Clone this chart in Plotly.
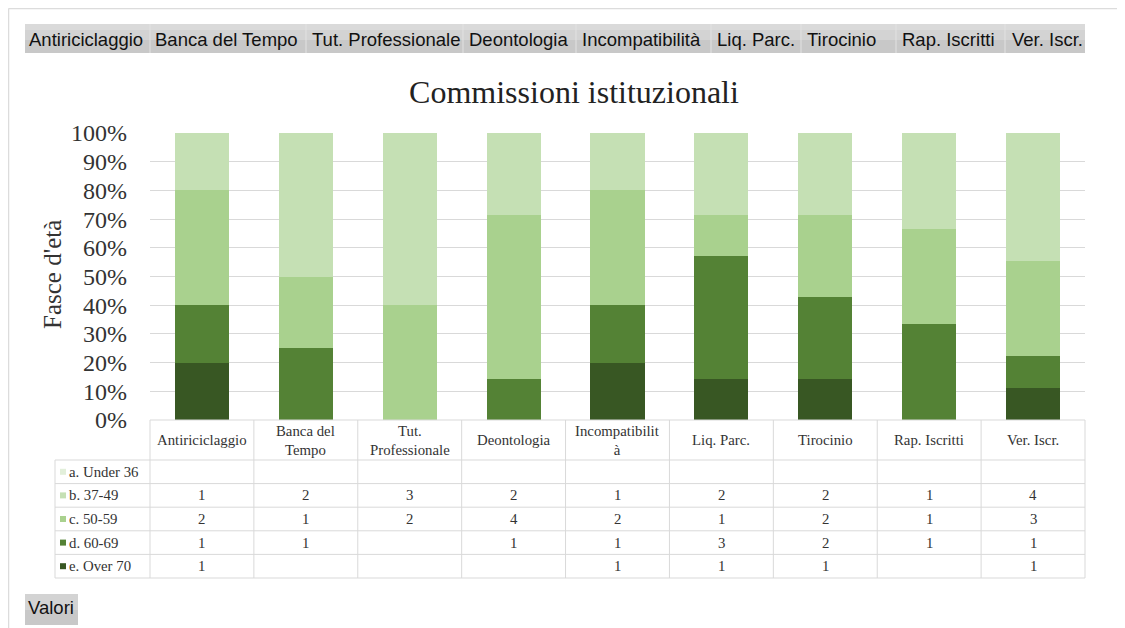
import plotly.graph_objects as go

categories = ["Antiriciclaggio", "Banca del Tempo", "Tut. Professionale", "Deontologia",
              "Incompatibilità", "Liq. Parc.", "Tirocinio", "Rap. Iscritti", "Ver. Iscr."]
header_labels = ["Antiriciclaggio", "Banca del<br>Tempo", "Tut.<br>Professionale", "Deontologia",
                 "Incompatibilit<br>à", "Liq. Parc.", "Tirocinio", "Rap. Iscritti", "Ver. Iscr."]
series_names = ["a. Under 36", "b. 37-49", "c. 50-59", "d. 60-69", "e. Over 70"]
under36 = [None, None, None, None, None, None, None, None, None]
age37_49 = [1, 2, 3, 2, 1, 2, 2, 1, 4]
age50_59 = [2, 1, 2, 4, 2, 1, 2, 1, 3]
age60_69 = [1, 1, None, 1, 1, 3, 2, 1, 1]
over70 = [1, None, None, None, 1, 1, 1, None, 1]
series_values = [under36, age37_49, age50_59, age60_69, over70]
colors = ["#e2efda", "#c5e0b4", "#a9d18e", "#548235", "#385723"]
filter_buttons = ["Antiriciclaggio", "Banca del Tempo", "Tut. Professionale", "Deontologia",
                  "Incompatibilità", "Liq. Parc.", "Tirocinio", "Rap. Iscritti", "Ver. Iscr."]
y_ticks = list(range(0, 101, 10))

OFF = 8  # page body margin
W, H = 1125 - OFF, 628 - OFF
PL, PR, PT, PB = 150, 1085, 133, 420  # plot area in screen pixels
L, T = PL - OFF, PT - OFF
R, B = W - (PR - OFF), H - (PB - OFF)
PW, PH = PR - PL, PB - PT


def px(x):
    return (x - PL) / PW


def py(y):
    return (PB - y) / PH


SERIF = "Liberation Serif, Times New Roman, serif"
SANS = "Liberation Sans, Arial, sans-serif"

fig = go.Figure()
# stack bottom-up: Over 70 first
for name, vals, col in reversed(list(zip(series_names, series_values, colors))):
    fig.add_trace(go.Bar(
        x=list(range(len(categories))), y=[v if v else 0 for v in vals], name=name,
        marker=dict(color=col, line=dict(width=0)), width=0.52, showlegend=False,
        hovertext=categories,
    ))

shapes = []
annotations = []
grey = "#d9d9d9"

# outer frame
shapes.append(dict(type="line", xref="paper", yref="paper", x0=px(8.5), x1=px(1125), y0=py(8.5), y1=py(8.5),
                   line=dict(color="#dcdcdc", width=1.5)))
shapes.append(dict(type="line", xref="paper", yref="paper", x0=px(8.5), x1=px(8.5), y0=py(8.5), y1=py(628),
                   line=dict(color="#dcdcdc", width=1.5)))

# filter buttons
bounds = [25, 150, 306, 463, 576, 711, 801, 896, 1005, 1085]
text_x = [27, 153, 310, 467, 580, 715, 805, 900, 1010]
for i, lab in enumerate(filter_buttons):
    x0, x1 = bounds[i], bounds[i + 1]
    shapes.append(dict(type="rect", xref="paper", yref="paper", x0=px(x0), x1=px(x1),
                       y0=py(53), y1=py(24), fillcolor="#c8c8c8", line=dict(width=0), layer="below"))
    shapes.append(dict(type="rect", xref="paper", yref="paper", x0=px(x0), x1=px(x1),
                       y0=py(40), y1=py(24), fillcolor="#d3d3d3", line=dict(width=0), layer="below"))
    shapes.append(dict(type="rect", xref="paper", yref="paper", x0=px(x0), x1=px(x1),
                       y0=py(30), y1=py(24), fillcolor="#dadada", line=dict(width=0), layer="below"))
    if i > 0:
        shapes.append(dict(type="line", xref="paper", yref="paper", x0=px(x0), x1=px(x0),
                           y0=py(53), y1=py(24), line=dict(color="#e2e2e2", width=1)))
    annotations.append(dict(text=lab, xref="paper", yref="paper", x=px(text_x[i]), y=py(39),
                            xanchor="left", yanchor="middle", showarrow=False,
                            font=dict(family=SANS, size=18.5, color="#111111")))

# Valori button
shapes.append(dict(type="rect", xref="paper", yref="paper", x0=px(25), x1=px(78), y0=py(625), y1=py(594),
                   fillcolor="#c8c8c8", line=dict(width=0), layer="below"))
shapes.append(dict(type="rect", xref="paper", yref="paper", x0=px(25), x1=px(78), y0=py(610), y1=py(594),
                   fillcolor="#d3d3d3", line=dict(width=0), layer="below"))
annotations.append(dict(text="Valori", xref="paper", yref="paper", x=px(26), y=py(607),
                        xanchor="left", yanchor="middle", showarrow=False,
                        font=dict(family=SANS, size=18.5, color="#111111")))

# data table
head_top, head_bot = 420, 460
row_h = 23.6
tab_left = 55
n = len(categories)
colw = PW / n
rows_y = [head_bot + k * row_h for k in range(len(series_names) + 1)]
shapes.append(dict(type="line", xref="paper", yref="paper", x0=0, x1=1, y0=py(head_top), y1=py(head_top),
                   line=dict(color=grey, width=1)))
for yy in rows_y:
    shapes.append(dict(type="line", xref="paper", yref="paper", x0=px(tab_left), x1=1, y0=py(yy), y1=py(yy),
                       line=dict(color=grey, width=1)))
for k in range(n + 1):
    xx = PL + k * colw
    shapes.append(dict(type="line", xref="paper", yref="paper", x0=px(xx), x1=px(xx),
                       y0=py(head_top), y1=py(rows_y[-1]), line=dict(color=grey, width=1)))
shapes.append(dict(type="line", xref="paper", yref="paper", x0=px(tab_left), x1=px(tab_left),
                   y0=py(head_bot), y1=py(rows_y[-1]), line=dict(color=grey, width=1)))

TFS = 14.8
for i, lab in enumerate(header_labels):
    annotations.append(dict(text=lab, xref="x", yref="paper", x=i, y=py((head_top + head_bot) / 2),
                            showarrow=False, xanchor="center", yanchor="middle",
                            font=dict(family=SERIF, size=TFS, color="#333333")))

for r, (name, vals, col) in enumerate(zip(series_names, series_values, colors)):
    yc = (rows_y[r] + rows_y[r + 1]) / 2
    shapes.append(dict(type="rect", xref="paper", yref="paper", x0=px(60), x1=px(66),
                       y0=py(yc + 3), y1=py(yc - 3), fillcolor=col, line=dict(width=0)))
    annotations.append(dict(text=name, xref="paper", yref="paper", x=px(67), y=py(yc),
                            showarrow=False, xanchor="left", yanchor="middle",
                            font=dict(family=SERIF, size=TFS, color="#333333")))
    for i, v in enumerate(vals):
        if v:
            annotations.append(dict(text=str(v), xref="x", yref="paper", x=i, y=py(yc),
                                    showarrow=False, xanchor="center", yanchor="middle",
                                    font=dict(family=SERIF, size=TFS, color="#333333")))

# y axis title
annotations.append(dict(text="Fasce d'età", xref="paper", yref="paper", x=px(52), y=py(275),
                        textangle=-90, showarrow=False, xanchor="center", yanchor="middle",
                        font=dict(family=SERIF, size=25, color="#333333")))

fig.update_layout(
    width=W, height=H,
    margin=dict(l=L, r=R, t=T, b=B),
    barmode="stack", barnorm="percent", bargap=0.48,
    plot_bgcolor="white", paper_bgcolor="white",
    title=dict(text="Commissioni istituzionali", x=(574 - OFF) / W, xanchor="center",
               y=1 - (92 - OFF) / H, yanchor="middle",
               font=dict(family=SERIF, size=32, color="#222222")),
    xaxis=dict(range=[-0.5, n - 0.5], showticklabels=False, showgrid=False, zeroline=False,
               showline=False, ticks=""),
    yaxis=dict(range=[0, 100], tickvals=y_ticks, ticktext=[f"{t}%" for t in y_ticks],
               showgrid=True, gridcolor=grey, gridwidth=1, zeroline=False, showline=False,
               tickfont=dict(family=SERIF, size=24, color="#333333"), ticks="", ticklabelstandoff=22),
    shapes=shapes, annotations=annotations,
)

fig.write_html("out.html")
